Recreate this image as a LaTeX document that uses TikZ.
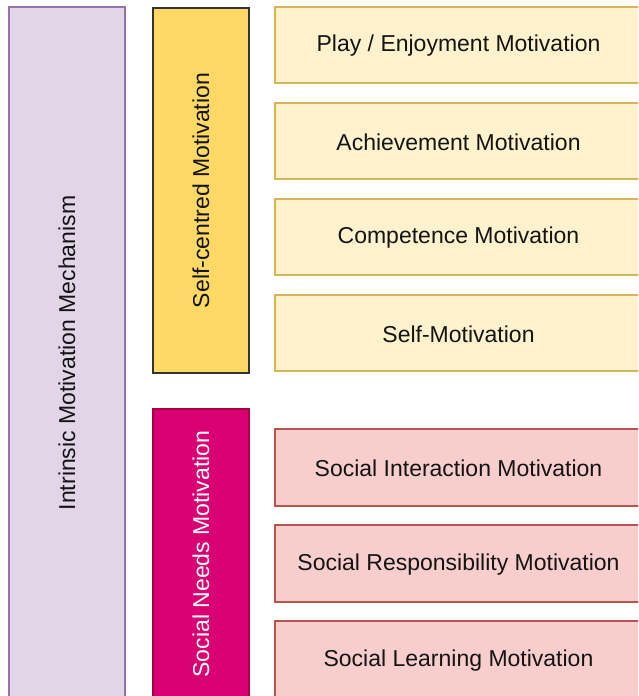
\documentclass[tikz,border=0pt]{standalone}
\usepackage{fontspec}
\setmainfont{Liberation Sans}
\begin{document}
\begin{tikzpicture}[x=1pt,y=-1pt,
  every node/.style={font=\fontsize{23}{27}\selectfont, text=black!92, inner sep=0pt, outer sep=0pt},
  basebox/.style={draw, line width=1.3pt, anchor=north west},
  mechbox/.style={basebox, fill=mechfill, draw=mechline},
  selfbox/.style={basebox, fill=selffill, draw=black!80},
  socbox/.style={basebox, fill=socfill, draw=socline},
  selfitem/.style={basebox, fill=itemyfill, draw=itemyline, minimum width=367pt, minimum height=76pt},
  socitem/.style={basebox, fill=itempfill, draw=itempline, minimum width=367pt, minimum height=77pt},
]
\definecolor{mechfill}{HTML}{E1D5E7}
\definecolor{mechline}{HTML}{9673A6}
\definecolor{selffill}{HTML}{FFD966}
\definecolor{socfill}{HTML}{D80073}
\definecolor{socline}{HTML}{A50040}
\definecolor{itemyfill}{HTML}{FFF2CC}
\definecolor{itemyline}{HTML}{D6B656}
\definecolor{itempfill}{HTML}{F8CECC}
\definecolor{itempline}{HTML}{B85450}
\useasboundingbox (0,0) rectangle (638,696);
\clip (0,0) rectangle (638,696);

% outer mechanism column
\node[mechbox, minimum width=116pt, minimum height=692pt] (mech) at (9,7) {};
\node[rotate=90] at (mech.center) {Intrinsic Motivation Mechanism};

% middle category columns
\node[selfbox, minimum width=96pt, minimum height=365pt] (self) at (153,8) {};
\node[rotate=90] at (self.center) {Self-centred Motivation};
\node[socbox, minimum width=96pt, minimum height=290pt] (soc) at (153,409) {};
\node[rotate=90, text=white] at (soc.center) {Social Needs Motivation};

% self-centred motivations
\node[selfitem] (play) at (275,7) {};
\node at ([yshift=-1pt]play.center) {Play / Enjoyment Motivation};
\node[selfitem] (ach) at (275,103) {};
\node at ([yshift=-1pt]ach.center) {Achievement Motivation};
\node[selfitem] (comp) at (275,199) {};
\node at ([yshift=-1pt]comp.center) {Competence Motivation};
\node[selfitem] (selfm) at (275,295) {};
\node at ([yshift=-1pt]selfm.center) {Self-Motivation};

% social needs motivations
\node[socitem] (inter) at (275,429) {};
\node at ([yshift=-1pt]inter.center) {Social Interaction Motivation};
\node[socitem] (resp) at (275,525) {};
\node at ([yshift=-1pt]resp.center) {Social Responsibility Motivation};
\node[socitem] (learn) at (275,621) {};
\node at ([yshift=-1pt]learn.center) {Social Learning Motivation};
\end{tikzpicture}
\end{document}
